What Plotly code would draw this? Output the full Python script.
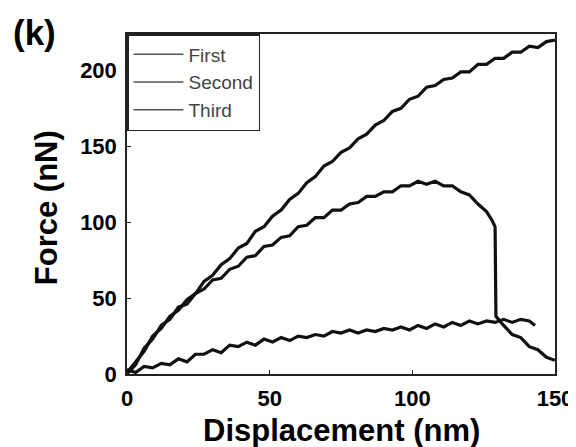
import plotly.graph_objects as go

# Data (Force in nN vs Displacement in nm)
first_x = [0, 3, 6, 9, 12, 15, 18, 21, 24, 27, 30, 33, 36, 39, 42, 45, 48, 51, 54, 57,
           60, 63, 66, 69, 72, 75, 78, 81, 84, 87, 90, 93, 96, 99, 102, 105, 108, 111, 114, 117,
           120, 123, 126, 129, 132, 135, 138, 141, 144, 147, 150]
first_y = [1, 8, 15, 25, 30, 38, 42, 49, 53, 61, 65, 72, 76, 83, 86, 94, 97, 104, 108, 115,
           119, 126, 130, 137, 140, 146, 149, 155, 158, 164, 167, 173, 175, 181, 183, 189, 190, 194, 195, 199,
           199, 204, 204, 208, 208, 212, 212, 216, 215, 219, 220]

second_x = [0, 3, 6, 9, 12, 15, 18, 21, 24, 27, 30, 33, 36, 39, 42, 45, 48, 51, 54, 57,
            60, 63, 66, 69, 72, 75, 78, 81, 84, 87, 90, 93, 96, 99, 102, 105, 108, 111, 114, 117,
            120, 123, 126, 128, 129, 129.3, 132, 135, 138, 141, 144, 147, 150]
second_y = [0, 6, 17, 23, 32, 36, 44, 46, 53, 56, 62, 63, 69, 71, 77, 78, 84, 85, 90, 91,
            97, 98, 103, 103, 108, 108, 112, 113, 117, 117, 120, 120, 124, 124, 127, 125, 127, 124, 124, 120,
            118, 112, 107, 101, 97, 38, 32, 26, 24, 18, 16, 11, 9]

third_x = [0, 3, 6, 9, 12, 15, 18, 21, 24, 27, 30, 33, 36, 39, 42, 45, 48, 51, 54, 57,
           60, 63, 66, 69, 72, 75, 78, 81, 84, 87, 90, 93, 96, 99, 102, 105, 108, 111, 114, 117,
           120, 123, 126, 129, 132, 135, 138, 141, 143]
third_y = [3, 1, 5, 4, 7, 6, 10, 8, 13, 13, 16, 14, 19, 18, 21, 19, 23, 21, 24, 22,
           25, 24, 26, 25, 28, 27, 29, 27, 29, 28, 30, 29, 31, 29, 32, 30, 33, 31, 34, 32,
           35, 33, 35, 34, 36, 34, 36, 35, 32]

series_names = ["First", "Second", "Third"]
x_ticks = [0, 50, 100, 150]
y_ticks = [0, 50, 100, 150, 200]

FONT = "Liberation Sans, Arial, sans-serif"
LINE = "#111111"

fig = go.Figure()
for name, xs, ys in zip(series_names, [first_x, second_x, third_x], [first_y, second_y, third_y]):
    fig.add_trace(go.Scatter(x=xs, y=ys, mode="lines", name=name, showlegend=False,
                             line=dict(color=LINE, width=3.2)))
# legend entries (thin sample lines)
for name in series_names:
    fig.add_trace(go.Scatter(x=[None], y=[None], mode="lines", name=name,
                             line=dict(color="#555555", width=1.5)))

axis_common = dict(
    showline=True, mirror=True, linecolor="#222222", linewidth=1.5,
    ticks="inside", ticklen=4, tickcolor="#222222", showgrid=False, zeroline=False,
    ticklabelstandoff=4,
    tickfont=dict(family=FONT, size=22, color="black", weight="bold"),
)

title_font = dict(family=FONT, size=31, color="black", weight="bold")

fig.update_layout(
    width=576, height=447,
    paper_bgcolor="white", plot_bgcolor="white",
    margin=dict(l=119, r=29, t=26, b=81),
    xaxis=dict(range=[0, 150], tickvals=x_ticks, **axis_common),
    yaxis=dict(range=[0, 224], tickvals=y_ticks, **axis_common),
    legend=dict(x=0.0, y=1.0, xanchor="left", yanchor="top",
                bgcolor="white", bordercolor="#222222", borderwidth=1.5,
                font=dict(family=FONT, size=19, color="#444444"),
                itemwidth=50, tracegroupgap=0),
    annotations=[
        dict(text="(k)", xref="paper", yref="paper",
             x=-0.271, y=1.003, xanchor="left", yanchor="middle", showarrow=False,
             font=dict(family=FONT, size=35, color="black", weight="bold")),
        dict(text="Displacement (nm)", xref="paper", yref="paper",
             x=0.5, y=-0.165, xanchor="center", yanchor="middle", showarrow=False,
             font=title_font),
        dict(text="Force (nN)", xref="paper", yref="paper", textangle=-90,
             x=-0.189, y=0.488, xanchor="center", yanchor="middle", showarrow=False,
             font=title_font),
    ],
)

fig.write_html("out.html")
